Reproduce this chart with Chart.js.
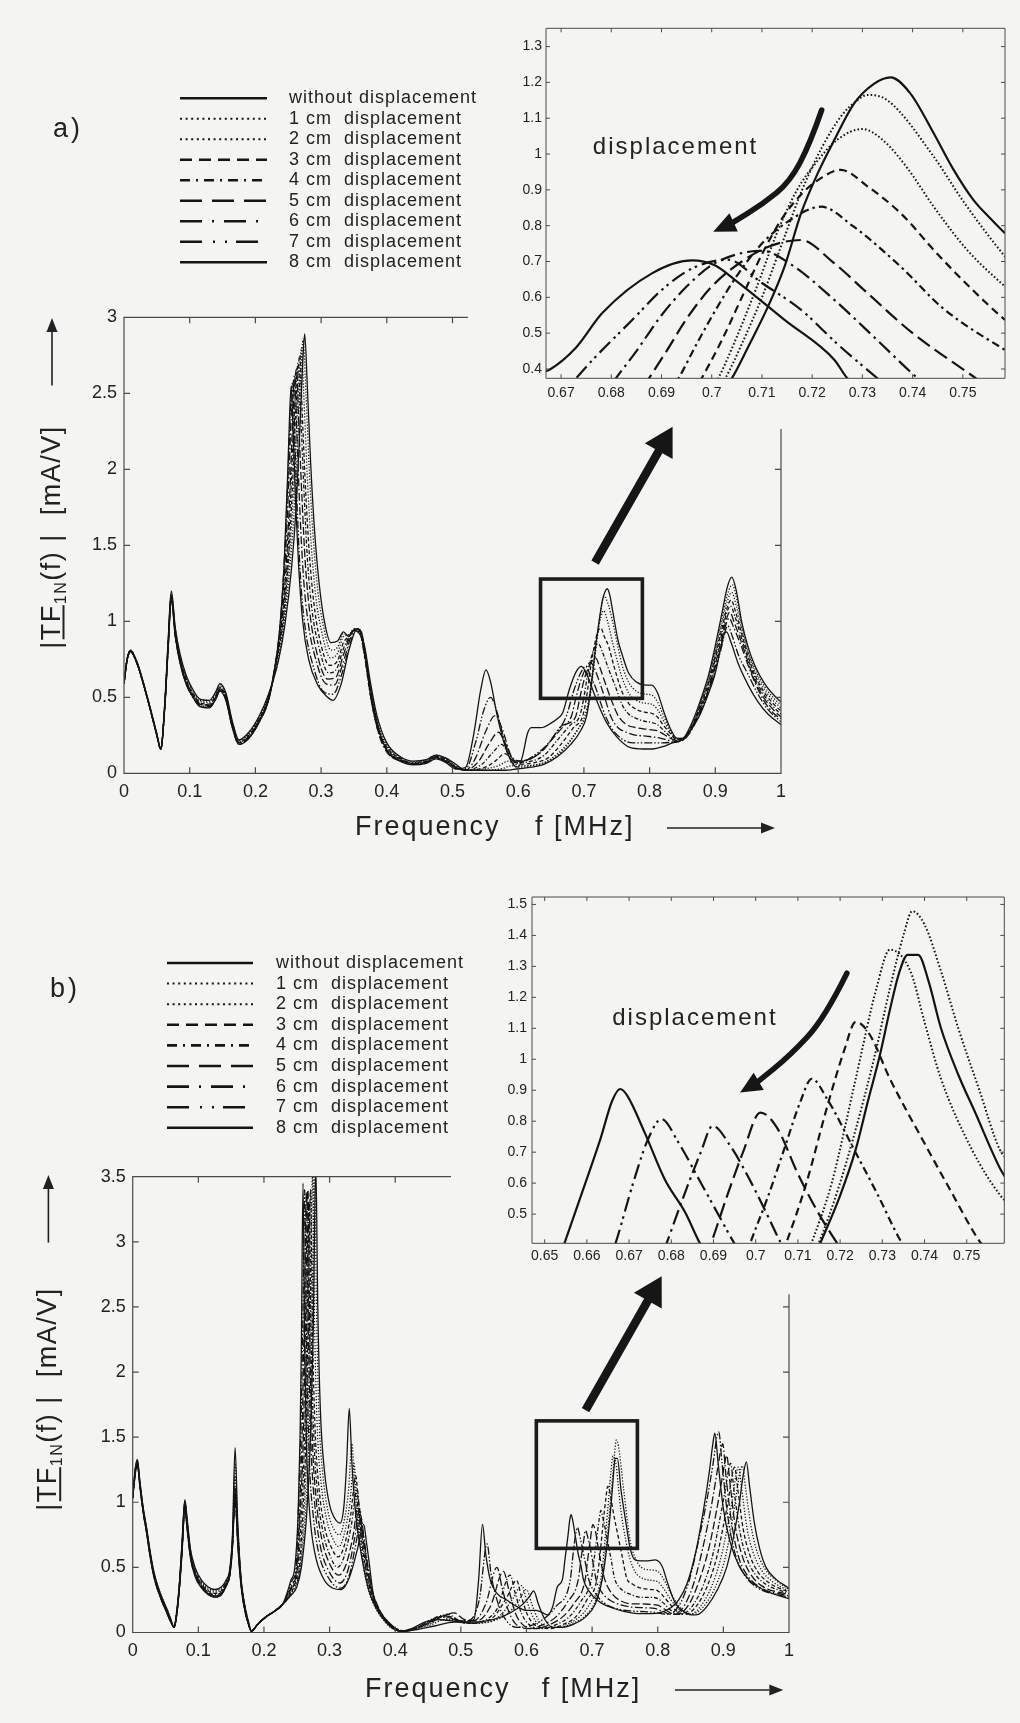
<!DOCTYPE html>
<html><head><meta charset="utf-8">
<script src="https://cdn.jsdelivr.net/npm/chart.js@4.4.1/dist/chart.umd.min.js"></script>
<style>
html,body{margin:0;padding:0;background:#f4f4f2;}
#wrap{position:relative;width:1020px;height:1723px;overflow:hidden;background:#f4f4f2;}
canvas{position:absolute;}
</style></head><body><div id="wrap">
<canvas id="mainA" style="left:0px;top:0px"></canvas>
<canvas id="insetA" style="left:500px;top:0px"></canvas>
<canvas id="mainB" style="left:0px;top:870px"></canvas>
<canvas id="insetB" style="left:490px;top:880px"></canvas>
</div>
<script>
// ---------------- DATA ----------------
const seriesLabels = ['without displacement','1 cm  displacement','2 cm  displacement','3 cm  displacement','4 cm  displacement','5 cm  displacement','6 cm  displacement','7 cm  displacement','8 cm  displacement'];
const lineStyles = ['solid','dot','dot','dash','dashdot','long','longdashdot','dashdotdot','solid'];

const mainXTicks = [0,0.1,0.2,0.3,0.4,0.5,0.6,0.7,0.8,0.9,1];
const mainAYTicks = [0,0.5,1,1.5,2,2.5,3];
const mainBYTicks = [0,0.5,1,1.5,2,2.5,3,3.5];
const insetAXTicks = [0.67,0.68,0.69,0.7,0.71,0.72,0.73,0.74,0.75];
const insetAYTicks = [0.4,0.5,0.6,0.7,0.8,0.9,1,1.1,1.2,1.3];
const insetBXTicks = [0.65,0.66,0.67,0.68,0.69,0.7,0.71,0.72,0.73,0.74,0.75];
const insetBYTicks = [0.5,0.6,0.7,0.8,0.9,1,1.1,1.2,1.3,1.4,1.5];

// panel a, main plot: [f (MHz), |TF| (mA/V)]
const mainA0 = [[0,.60],[.005,.76],[.01,.81],[.02,.73],[.03,.59],[.04,.43],[.05,.26],[.056,.16],[.062,.46],[.067,.86],[.072,1.20],[.078,.96],[.085,.79],[.095,.64],[.105,.55],[.115,.49],[.13,.48],[.14,.54],[.146,.59],[.155,.53],[.165,.34],[.175,.22],[.19,.27],[.205,.37],[.22,.52],[.235,.74],[.245,.98],[.255,1.35],[.262,1.75],[.268,2.3],[.272,2.7],[.275,2.89],[.279,2.55],[.284,2.05],[.29,1.6],[.297,1.25],[.305,1.0],[.315,.86],[.325,.87],[.334,.93],[.342,.90],[.35,.94],[.358,.92],[.366,.84],[.375,.6],[.385,.38],[.4,.2],[.42,.11],[.44,.08],[.46,.09],[.475,.12],[.49,.10],[.505,.06],[.52,.02],[.55,.02],[.58,.02],[.6,.03],[.62,.04],[.64,.06],[.66,.11],[.68,.19],[.695,.28],[.704,.374],[.711,.574],[.718,.835],[.7244,1.039],[.7284,1.142],[.7323,1.196],[.7356,1.214],[.7395,1.17],[.7442,1.058],[.7521,.872],[.7584,.779],[.768,.66],[.78,.6],[.795,.58],[.803,.58],[.812,.53],[.822,.4],[.832,.29],[.842,.23],[.85,.23],[.862,.31],[.875,.45],[.89,.65],[.9,.84],[.91,1.05],[.918,1.22],[.925,1.29],[.932,1.2],[.94,1.0],[.95,.83],[.96,.71],[.975,.59],[.99,.51],[1,.47]];
const mainA1 = [[0,.60],[.005,.76],[.01,.81],[.02,.73],[.03,.59],[.04,.43],[.05,.26],[.056,.16],[.062,.45],[.067,.85],[.072,1.19],[.078,.95],[.085,.78],[.095,.63],[.105,.54],[.115,.48],[.13,.475],[.14,.535],[.146,.585],[.155,.525],[.165,.335],[.175,.215],[.19,.265],[.205,.365],[.22,.515],[.235,.75],[.244,1.0],[.253,1.38],[.26,1.8],[.266,2.35],[.27,2.7],[.2725,2.85],[.277,2.5],[.282,2.0],[.288,1.55],[.295,1.2],[.303,.98],[.315,.81],[.325,.83],[.334,.92],[.342,.91],[.35,.95],[.358,.93],[.366,.82],[.375,.57],[.385,.36],[.4,.19],[.42,.11],[.44,.075],[.46,.09],[.475,.12],[.49,.10],[.505,.05],[.52,.02],[.55,.02],[.575,.03],[.59,.05],[.6,.04],[.62,.05],[.64,.07],[.66,.13],[.68,.22],[.694,.31],[.703,.374],[.71,.52],[.716,.74],[.722,.95],[.727,1.1],[.731,1.165],[.737,1.11],[.744,.993],[.752,.83],[.758,.714],[.768,.6],[.78,.54],[.795,.52],[.803,.515],[.812,.47],[.822,.37],[.832,.28],[.842,.23],[.85,.23],[.862,.3],[.875,.44],[.89,.63],[.9,.81],[.91,1.01],[.918,1.17],[.926,1.24],[.933,1.14],[.94,.98],[.95,.81],[.96,.69],[.975,.57],[.99,.49],[1,.45]];
const mainA2 = [[0,.60],[.005,.76],[.01,.805],[.02,.725],[.03,.585],[.04,.425],[.05,.255],[.056,.16],[.062,.45],[.067,.84],[.072,1.18],[.078,.94],[.085,.77],[.095,.62],[.105,.53],[.115,.475],[.13,.465],[.14,.525],[.146,.575],[.155,.515],[.165,.325],[.175,.21],[.19,.26],[.205,.36],[.22,.51],[.233,.74],[.243,1.0],[.251,1.38],[.258,1.85],[.264,2.4],[.268,2.7],[.27,2.8],[.274,2.45],[.279,1.95],[.285,1.5],[.292,1.16],[.3,.95],[.314,.76],[.325,.79],[.334,.9],[.342,.91],[.35,.94],[.358,.93],[.366,.8],[.375,.55],[.385,.34],[.4,.18],[.42,.1],[.44,.07],[.46,.085],[.475,.115],[.49,.095],[.505,.045],[.52,.02],[.55,.03],[.57,.05],[.585,.08],[.595,.06],[.61,.05],[.63,.06],[.65,.09],[.67,.16],[.688,.27],[.701,.374],[.708,.5],[.714,.7],[.72,.9],[.726,1.03],[.73,1.07],[.736,1.0],[.744,.853],[.752,.72],[.758,.63],[.768,.53],[.78,.48],[.795,.46],[.803,.455],[.812,.42],[.822,.34],[.832,.27],[.842,.225],[.85,.225],[.862,.29],[.875,.43],[.89,.61],[.9,.79],[.91,.98],[.918,1.13],[.925,1.19],[.932,1.1],[.94,.95],[.95,.79],[.96,.67],[.975,.55],[.99,.47],[1,.43]];
const mainA3 = [[0,.595],[.005,.755],[.01,.80],[.02,.72],[.03,.58],[.04,.42],[.05,.25],[.056,.16],[.062,.44],[.067,.83],[.072,1.17],[.078,.93],[.085,.76],[.095,.61],[.105,.52],[.115,.465],[.13,.455],[.14,.515],[.146,.565],[.155,.505],[.165,.32],[.175,.205],[.19,.25],[.205,.35],[.22,.5],[.232,.73],[.242,1.0],[.25,1.4],[.256,1.85],[.261,2.35],[.265,2.65],[.2675,2.75],[.271,2.4],[.276,1.9],[.282,1.45],[.289,1.12],[.297,.9],[.313,.71],[.325,.74],[.334,.86],[.342,.9],[.35,.94],[.358,.94],[.366,.79],[.375,.53],[.385,.32],[.4,.17],[.42,.1],[.44,.065],[.46,.08],[.475,.11],[.49,.09],[.505,.04],[.52,.02],[.55,.04],[.565,.08],[.58,.13],[.59,.09],[.605,.06],[.625,.07],[.645,.1],[.665,.19],[.684,.3],[.698,.374],[.704,.5],[.71,.69],[.716,.84],[.721,.93],[.7257,.956],[.731,.9],[.7376,.835],[.746,.7],[.758,.537],[.768,.46],[.78,.42],[.795,.4],[.803,.395],[.812,.37],[.822,.31],[.832,.26],[.842,.22],[.85,.225],[.862,.29],[.875,.42],[.89,.6],[.9,.77],[.91,.95],[.918,1.09],[.924,1.14],[.931,1.06],[.94,.92],[.95,.77],[.96,.65],[.975,.53],[.99,.45],[1,.41]];
const mainA4 = [[0,.595],[.005,.755],[.01,.80],[.02,.72],[.03,.58],[.04,.42],[.05,.25],[.056,.16],[.062,.44],[.067,.83],[.072,1.16],[.078,.92],[.085,.75],[.095,.6],[.105,.515],[.115,.46],[.13,.45],[.14,.51],[.146,.56],[.155,.5],[.165,.315],[.175,.2],[.19,.245],[.205,.345],[.22,.495],[.231,.72],[.241,1.0],[.249,1.42],[.254,1.85],[.259,2.35],[.263,2.62],[.265,2.7],[.269,2.35],[.274,1.85],[.279,1.42],[.286,1.08],[.295,.86],[.312,.66],[.324,.69],[.334,.82],[.343,.9],[.351,.95],[.358,.94],[.366,.77],[.375,.51],[.385,.31],[.4,.16],[.42,.095],[.44,.065],[.46,.08],[.475,.11],[.49,.085],[.505,.04],[.52,.02],[.545,.06],[.56,.13],[.575,.19],[.585,.13],[.6,.07],[.62,.08],[.64,.12],[.66,.22],[.68,.32],[.6934,.374],[.7,.5],[.706,.66],[.713,.79],[.718,.84],[.7218,.853],[.728,.8],[.7376,.686],[.748,.57],[.758,.453],[.768,.39],[.78,.36],[.795,.34],[.803,.335],[.812,.32],[.822,.28],[.832,.24],[.842,.215],[.85,.22],[.862,.28],[.875,.41],[.89,.58],[.9,.75],[.91,.92],[.917,1.05],[.923,1.1],[.93,1.03],[.94,.89],[.95,.75],[.96,.63],[.975,.51],[.99,.43],[1,.39]];
const mainA5 = [[0,.59],[.005,.75],[.01,.80],[.02,.72],[.03,.58],[.04,.42],[.05,.25],[.056,.16],[.062,.44],[.067,.82],[.072,1.16],[.078,.92],[.085,.745],[.095,.595],[.105,.51],[.115,.455],[.13,.445],[.14,.505],[.146,.555],[.155,.495],[.165,.31],[.175,.2],[.19,.24],[.205,.34],[.22,.49],[.23,.7],[.24,1.0],[.248,1.45],[.253,1.9],[.257,2.35],[.2605,2.6],[.2625,2.66],[.266,2.3],[.271,1.8],[.276,1.38],[.283,1.05],[.292,.82],[.31,.62],[.322,.63],[.334,.78],[.344,.9],[.352,.95],[.359,.94],[.367,.76],[.376,.49],[.386,.29],[.4,.15],[.42,.09],[.44,.06],[.46,.075],[.475,.105],[.49,.08],[.505,.035],[.52,.02],[.54,.08],[.555,.19],[.57,.27],[.58,.2],[.595,.08],[.615,.09],[.635,.14],[.655,.24],[.672,.32],[.6875,.374],[.694,.5],[.702,.64],[.71,.72],[.7178,.76],[.724,.7],[.731,.612],[.742,.48],[.7521,.379],[.765,.32],[.78,.3],[.795,.29],[.803,.285],[.812,.28],[.822,.255],[.832,.23],[.842,.215],[.85,.22],[.862,.28],[.875,.4],[.89,.56],[.9,.72],[.91,.89],[.916,1.0],[.922,1.06],[.929,.99],[.94,.86],[.95,.73],[.96,.61],[.975,.49],[.99,.41],[1,.37]];
const mainA6 = [[0,.59],[.005,.75],[.01,.80],[.02,.72],[.03,.58],[.04,.42],[.05,.25],[.056,.16],[.062,.43],[.067,.82],[.072,1.15],[.078,.91],[.085,.74],[.095,.59],[.105,.505],[.115,.45],[.13,.44],[.14,.5],[.146,.55],[.155,.49],[.165,.305],[.175,.195],[.19,.235],[.205,.335],[.22,.485],[.229,.69],[.239,1.0],[.246,1.45],[.251,1.95],[.255,2.4],[.258,2.58],[.26,2.62],[.263,2.25],[.268,1.7],[.273,1.3],[.28,1.0],[.29,.78],[.307,.59],[.32,.58],[.333,.72],[.344,.88],[.353,.95],[.36,.94],[.368,.74],[.377,.48],[.387,.27],[.4,.14],[.42,.085],[.44,.06],[.46,.07],[.475,.1],[.49,.08],[.505,.035],[.52,.02],[.535,.1],[.55,.27],[.565,.38],[.575,.3],[.59,.11],[.605,.08],[.625,.11],[.645,.19],[.663,.3],[.6809,.374],[.688,.5],[.696,.62],[.704,.7],[.71,.73],[.716,.69],[.7244,.593],[.733,.48],[.741,.374],[.752,.3],[.765,.27],[.78,.25],[.795,.245],[.803,.24],[.812,.235],[.822,.225],[.832,.215],[.842,.21],[.85,.215],[.862,.27],[.875,.39],[.89,.55],[.9,.7],[.91,.86],[.915,.96],[.921,1.02],[.928,.96],[.94,.83],[.95,.71],[.96,.6],[.975,.47],[.99,.39],[1,.36]];
const mainA7 = [[0,.59],[.005,.75],[.01,.80],[.02,.72],[.03,.58],[.04,.42],[.05,.25],[.056,.16],[.062,.43],[.067,.81],[.072,1.15],[.078,.905],[.085,.735],[.095,.585],[.105,.5],[.115,.445],[.13,.435],[.14,.495],[.146,.545],[.155,.485],[.165,.3],[.175,.19],[.19,.23],[.205,.33],[.22,.48],[.229,.68],[.238,1.0],[.245,1.48],[.25,2.0],[.2535,2.4],[.2557,2.55],[.2575,2.58],[.26,2.2],[.265,1.6],[.27,1.2],[.277,.92],[.287,.72],[.303,.54],[.318,.52],[.332,.66],[.344,.85],[.354,.95],[.361,.93],[.369,.72],[.378,.46],[.39,.25],[.405,.13],[.42,.08],[.44,.06],[.46,.07],[.475,.1],[.49,.075],[.505,.03],[.52,.03],[.535,.2],[.548,.42],[.558,.5],[.568,.4],[.58,.2],[.595,.07],[.61,.08],[.625,.12],[.64,.17],[.655,.25],[.673,.374],[.6848,.546],[.695,.66],[.7032,.705],[.71,.64],[.7178,.565],[.725,.47],[.733,.374],[.745,.28],[.76,.22],[.775,.2],[.79,.2],[.805,.2],[.82,.2],[.835,.205],[.845,.21],[.86,.27],[.875,.38],[.89,.54],[.9,.68],[.91,.84],[.914,.92],[.919,.97],[.926,.9],[.935,.78],[.95,.65],[.965,.52],[.98,.42],[1,.34]];
const mainA8 = [[0,.59],[.005,.75],[.01,.80],[.02,.72],[.03,.58],[.04,.42],[.05,.25],[.056,.16],[.062,.43],[.067,.80],[.072,1.14],[.078,.90],[.085,.73],[.095,.58],[.105,.50],[.115,.44],[.13,.43],[.14,.49],[.146,.54],[.155,.48],[.165,.30],[.175,.19],[.19,.23],[.205,.33],[.22,.48],[.229,.67],[.237,.95],[.244,1.4],[.249,1.95],[.252,2.35],[.2545,2.55],[.257,2.3],[.261,1.8],[.266,1.35],[.272,1.0],[.281,.75],[.295,.58],[.31,.5],[.318,.48],[.33,.58],[.343,.82],[.355,.95],[.362,.92],[.37,.7],[.38,.44],[.392,.23],[.405,.12],[.42,.08],[.44,.055],[.46,.065],[.475,.095],[.49,.07],[.505,.03],[.52,.04],[.532,.25],[.543,.55],[.551,.68],[.558,.6],[.568,.38],[.58,.18],[.592,.06],[.6,.04],[.607,.12],[.614,.26],[.62,.3],[.635,.3],[.65,.33],[.66,.36],[.6677,.398],[.6782,.556],[.6881,.667],[.6961,.703],[.7046,.649],[.7145,.537],[.7244,.426],[.735,.33],[.75,.24],[.77,.17],[.79,.16],[.805,.16],[.82,.175],[.835,.2],[.845,.21],[.86,.27],[.875,.37],[.89,.53],[.9,.66],[.908,.82],[.913,.91],[.917,.93],[.924,.86],[.935,.72],[.95,.58],[.965,.47],[.98,.39],[1,.32]];

// panel b, main plot
const mainB0 = [[0,1.05],[.004,1.26],[.007,1.33],[.011,1.16],[.016,.96],[.021,.81],[.027,.61],[.033,.45],[.04,.33],[.047,.24],[.053,.17],[.058,.1],[.063,.04],[.067,.16],[.071,.37],[.075,.68],[.0795,1.02],[.083,.87],[.088,.64],[.095,.5],[.105,.4],[.115,.35],[.125,.33],[.135,.35],[.142,.4],[.148,.49],[.152,.75],[.156,1.42],[.16,.85],[.165,.42],[.17,.23],[.176,.09],[.181,.01],[.19,.06],[.203,.12],[.215,.16],[.229,.22],[.24,.28],[.25,.35],[.257,.5],[.265,.9],[.271,1.5],[.275,2.3],[.279,3.6],[.282,2.5],[.286,1.7],[.292,1.25],[.3,.98],[.31,.86],[.316,.84],[.322,.98],[.326,1.3],[.33,1.72],[.334,1.3],[.34,.9],[.35,.55],[.36,.32],[.37,.2],[.38,.12],[.39,.06],[.4,.02],[.41,.01],[.43,.02],[.46,.05],[.49,.08],[.52,.08],[.55,.1],[.575,.15],[.595,.22],[.605,.28],[.611,.32],[.618,.22],[.628,.1],[.64,.04],[.655,.04],[.67,.06],[.69,.12],[.705,.22],[.7153,.406],[.7237,.709],[.7294,1.012],[.7318,1.16],[.735,1.337],[.7385,1.337],[.7439,1.1],[.752,.828],[.7578,.65],[.765,.56],[.775,.55],[.785,.55],[.7963,.557],[.807,.505],[.815,.38],[.827,.224],[.84,.16],[.852,.135],[.862,.14],[.875,.2],[.89,.32],[.905,.5],[.915,.72],[.924,.98],[.93,1.2],[.935,1.31],[.94,1.12],[.947,.85],[.955,.65],[.965,.5],[.98,.41],[1,.34]];
const mainB1 = [[0,1.05],[.004,1.26],[.007,1.32],[.011,1.15],[.016,.95],[.021,.8],[.027,.6],[.033,.45],[.04,.33],[.047,.24],[.053,.17],[.058,.1],[.063,.04],[.067,.16],[.071,.36],[.075,.67],[.0795,1.01],[.083,.86],[.088,.63],[.095,.49],[.105,.39],[.115,.34],[.125,.32],[.135,.34],[.142,.39],[.148,.48],[.152,.73],[.156,1.3],[.16,.82],[.165,.41],[.17,.23],[.176,.09],[.181,.01],[.19,.06],[.203,.12],[.215,.16],[.229,.22],[.24,.28],[.249,.35],[.256,.5],[.263,.9],[.269,1.5],[.273,2.3],[.277,3.6],[.28,2.5],[.284,1.65],[.29,1.2],[.298,.92],[.308,.78],[.315,.75],[.322,.85],[.329,1.1],[.334,1.45],[.338,1.15],[.344,.8],[.352,.5],[.36,.31],[.37,.19],[.38,.11],[.39,.05],[.4,.02],[.41,.01],[.43,.03],[.455,.06],[.475,.1],[.49,.09],[.52,.07],[.55,.09],[.57,.14],[.588,.24],[.6,.33],[.608,.22],[.618,.1],[.632,.04],[.65,.04],[.67,.07],[.69,.13],[.705,.24],[.7149,.406],[.7237,.774],[.7318,1.229],[.7371,1.478],[.74,1.435],[.748,1.1],[.7578,.709],[.765,.58],[.775,.5],[.79,.48],[.8,.47],[.81,.4],[.82,.3],[.83,.22],[.84,.16],[.848,.14],[.858,.15],[.87,.2],[.885,.32],[.9,.52],[.91,.75],[.918,1.0],[.925,1.22],[.929,1.28],[.934,1.1],[.942,.82],[.95,.64],[.962,.5],[.98,.4],[1,.33]];
const mainB2 = [[0,1.04],[.004,1.25],[.007,1.32],[.011,1.15],[.016,.95],[.021,.8],[.027,.6],[.033,.44],[.04,.32],[.047,.23],[.053,.16],[.058,.1],[.063,.04],[.067,.15],[.071,.36],[.075,.66],[.0795,1.0],[.083,.85],[.088,.62],[.095,.48],[.105,.38],[.115,.33],[.125,.31],[.135,.33],[.142,.38],[.148,.47],[.152,.72],[.156,1.2],[.16,.8],[.165,.41],[.17,.22],[.176,.08],[.181,.01],[.19,.06],[.203,.12],[.215,.16],[.229,.22],[.24,.29],[.248,.36],[.255,.5],[.261,.9],[.266,1.5],[.27,2.3],[.274,3.5],[.277,2.4],[.281,1.6],[.287,1.15],[.295,.88],[.305,.72],[.314,.66],[.322,.75],[.331,1.0],[.337,1.3],[.341,1.05],[.347,.72],[.355,.45],[.363,.28],[.372,.17],[.382,.1],[.392,.05],[.402,.02],[.412,.01],[.43,.03],[.455,.07],[.47,.12],[.485,.1],[.51,.07],[.54,.08],[.56,.13],[.578,.25],[.593,.36],[.6,.25],[.61,.12],[.625,.04],[.645,.04],[.665,.07],[.685,.14],[.7,.25],[.7132,.406],[.7237,.937],[.7286,1.229],[.7318,1.354],[.7367,1.283],[.74,1.12],[.7439,.937],[.7512,.709],[.7578,.563],[.765,.47],[.775,.42],[.79,.4],[.8,.39],[.81,.33],[.82,.25],[.83,.19],[.84,.15],[.846,.14],[.855,.15],[.865,.2],[.88,.33],[.895,.55],[.905,.78],[.913,1.0],[.919,1.2],[.923,1.27],[.928,1.1],[.936,.8],[.945,.62],[.958,.48],[.975,.39],[1,.32]];
const mainB3 = [[0,1.04],[.004,1.25],[.007,1.31],[.011,1.14],[.016,.94],[.021,.79],[.027,.59],[.033,.44],[.04,.32],[.047,.23],[.053,.16],[.058,.1],[.063,.04],[.067,.15],[.071,.35],[.075,.65],[.0795,.99],[.083,.84],[.088,.61],[.095,.47],[.105,.37],[.115,.32],[.125,.3],[.135,.32],[.142,.38],[.148,.46],[.152,.7],[.156,1.12],[.16,.78],[.165,.4],[.17,.22],[.176,.08],[.181,.01],[.19,.06],[.203,.12],[.215,.16],[.229,.22],[.24,.29],[.247,.37],[.254,.5],[.259,.9],[.264,1.5],[.267,2.3],[.271,3.4],[.274,2.3],[.278,1.55],[.284,1.1],[.292,.82],[.303,.65],[.313,.58],[.322,.66],[.332,.9],[.34,1.2],[.344,.98],[.35,.66],[.358,.41],[.366,.26],[.375,.16],[.385,.09],[.395,.04],[.405,.02],[.415,.01],[.435,.04],[.46,.09],[.475,.13],[.49,.1],[.51,.07],[.53,.08],[.55,.12],[.57,.27],[.585,.4],[.592,.28],[.602,.13],[.615,.05],[.635,.03],[.655,.06],[.675,.12],[.692,.25],[.7072,.406],[.712,.6],[.717,.85],[.721,1.03],[.7237,1.121],[.727,1.08],[.7318,.937],[.7399,.731],[.746,.58],[.7528,.417],[.762,.37],[.775,.34],[.79,.33],[.8,.32],[.81,.27],[.82,.21],[.83,.16],[.838,.14],[.848,.15],[.86,.21],[.875,.35],[.89,.58],[.9,.82],[.908,1.03],[.913,1.2],[.917,1.27],[.922,1.1],[.93,.8],[.94,.6],[.952,.47],[.97,.38],[1,.31]];
const mainB4 = [[0,1.04],[.004,1.24],[.007,1.31],[.011,1.14],[.016,.94],[.021,.79],[.027,.59],[.033,.43],[.04,.31],[.047,.22],[.053,.15],[.058,.09],[.063,.04],[.067,.15],[.071,.35],[.075,.64],[.0795,.98],[.083,.83],[.088,.6],[.095,.46],[.105,.36],[.115,.31],[.125,.29],[.135,.31],[.142,.37],[.148,.46],[.152,.69],[.156,1.06],[.16,.76],[.165,.4],[.17,.21],[.176,.08],[.181,.01],[.19,.06],[.203,.12],[.215,.16],[.229,.22],[.239,.3],[.246,.37],[.252,.5],[.257,.9],[.262,1.5],[.265,2.2],[.269,3.3],[.272,2.2],[.276,1.5],[.282,1.05],[.29,.77],[.3,.6],[.312,.5],[.322,.58],[.333,.82],[.342,1.1],[.346,.9],[.352,.62],[.36,.38],[.368,.24],[.377,.15],[.387,.08],[.397,.04],[.407,.02],[.418,.01],[.44,.05],[.46,.1],[.48,.14],[.495,.1],[.515,.07],[.535,.09],[.555,.18],[.575,.44],[.583,.3],[.593,.14],[.607,.05],[.625,.03],[.645,.06],[.665,.12],[.683,.24],[.6987,.406],[.703,.56],[.707,.72],[.7105,.86],[.7133,.937],[.717,.87],[.7237,.698],[.729,.56],[.7342,.417],[.745,.33],[.76,.29],[.775,.27],[.79,.27],[.8,.26],[.81,.22],[.82,.17],[.832,.14],[.842,.15],[.855,.22],[.87,.37],[.885,.62],[.895,.88],[.903,1.1],[.908,1.25],[.911,1.3],[.916,1.1],[.925,.78],[.935,.58],[.948,.45],[.965,.37],[1,.3]];
const mainB5 = [[0,1.04],[.004,1.24],[.007,1.3],[.011,1.13],[.016,.93],[.021,.78],[.027,.58],[.033,.43],[.04,.31],[.047,.22],[.053,.15],[.058,.09],[.063,.04],[.067,.14],[.071,.34],[.075,.63],[.0795,.97],[.083,.82],[.088,.6],[.095,.46],[.105,.36],[.115,.31],[.125,.28],[.135,.3],[.142,.37],[.148,.45],[.152,.68],[.156,1.02],[.16,.74],[.165,.39],[.17,.2],[.176,.07],[.181,.01],[.19,.06],[.203,.12],[.215,.16],[.229,.22],[.238,.3],[.245,.38],[.251,.5],[.255,.9],[.26,1.5],[.263,2.3],[.267,3.4],[.27,2.2],[.274,1.45],[.28,1.0],[.288,.72],[.299,.54],[.314,.44],[.325,.52],[.336,.75],[.344,1.0],[.348,.84],[.355,.57],[.362,.36],[.37,.23],[.379,.14],[.389,.07],[.399,.03],[.41,.01],[.425,.02],[.445,.06],[.465,.11],[.49,.15],[.505,.1],[.525,.09],[.545,.2],[.565,.47],[.573,.33],[.583,.15],[.597,.05],[.615,.03],[.635,.06],[.655,.12],[.672,.22],[.6894,.406],[.693,.55],[.697,.7],[.7011,.828],[.705,.78],[.71,.63],[.715,.5],[.7193,.406],[.73,.3],[.745,.24],[.76,.22],[.775,.22],[.79,.215],[.8,.21],[.81,.18],[.82,.15],[.826,.14],[.836,.15],[.848,.22],[.862,.38],[.878,.65],[.889,.92],[.897,1.15],[.902,1.3],[.905,1.36],[.91,1.15],[.918,.82],[.928,.6],[.94,.46],[.958,.36],[1,.29]];
const mainB6 = [[0,1.03],[.004,1.23],[.007,1.3],[.011,1.13],[.016,.93],[.021,.78],[.027,.58],[.033,.42],[.04,.3],[.047,.21],[.053,.14],[.058,.09],[.063,.04],[.067,.14],[.071,.34],[.075,.62],[.0795,.96],[.083,.81],[.088,.59],[.095,.45],[.105,.35],[.115,.3],[.125,.28],[.135,.3],[.142,.36],[.148,.45],[.152,.67],[.156,1.0],[.16,.72],[.165,.38],[.17,.2],[.176,.07],[.181,.01],[.19,.06],[.203,.12],[.215,.16],[.229,.22],[.237,.3],[.244,.38],[.25,.5],[.254,.9],[.258,1.5],[.261,2.3],[.265,3.38],[.268,2.2],[.272,1.4],[.278,.95],[.286,.66],[.298,.48],[.316,.38],[.328,.48],[.338,.72],[.346,.95],[.35,.8],[.357,.54],[.364,.34],[.372,.22],[.381,.13],[.391,.07],[.401,.03],[.412,.01],[.43,.03],[.45,.08],[.47,.13],[.485,.12],[.5,.09],[.52,.09],[.538,.22],[.555,.5],[.563,.34],[.573,.16],[.587,.05],[.605,.03],[.625,.06],[.645,.12],[.662,.23],[.6789,.406],[.683,.56],[.687,.7],[.6898,.785],[.694,.72],[.699,.6],[.703,.49],[.706,.406],[.716,.3],[.73,.24],[.745,.21],[.76,.195],[.78,.19],[.795,.185],[.808,.16],[.82,.14],[.83,.15],[.842,.22],[.855,.38],[.87,.68],[.882,.98],[.891,1.25],[.896,1.4],[.899,1.45],[.904,1.2],[.912,.86],[.922,.6],[.935,.45],[.955,.35],[1,.28]];
const mainB7 = [[0,1.03],[.004,1.23],[.007,1.29],[.011,1.12],[.016,.92],[.021,.77],[.027,.57],[.033,.42],[.04,.3],[.047,.21],[.053,.14],[.058,.08],[.063,.04],[.067,.13],[.071,.33],[.075,.61],[.0795,.95],[.083,.8],[.088,.58],[.095,.44],[.105,.35],[.115,.3],[.125,.27],[.135,.29],[.142,.36],[.148,.44],[.152,.66],[.156,1.05],[.16,.7],[.165,.37],[.17,.19],[.176,.07],[.181,.01],[.19,.06],[.203,.12],[.215,.16],[.229,.22],[.236,.3],[.243,.4],[.249,.5],[.252,.9],[.256,1.5],[.259,2.3],[.262,3.4],[.265,2.2],[.269,1.35],[.275,.9],[.283,.62],[.296,.44],[.317,.34],[.33,.44],[.34,.68],[.348,.88],[.352,.74],[.358,.52],[.365,.32],[.373,.2],[.383,.12],[.393,.06],[.403,.02],[.414,.01],[.435,.04],[.455,.1],[.475,.12],[.49,.1],[.51,.09],[.528,.25],[.54,.68],[.546,.45],[.555,.25],[.568,.1],[.585,.04],[.605,.05],[.625,.1],[.645,.2],[.6668,.406],[.6712,.611],[.6745,.742],[.6777,.807],[.6817,.731],[.6866,.611],[.6914,.492],[.6947,.411],[.705,.3],[.72,.22],[.74,.18],[.76,.165],[.78,.16],[.795,.155],[.812,.14],[.822,.15],[.834,.22],[.848,.4],[.862,.7],[.875,1.02],[.885,1.32],[.89,1.5],[.893,1.54],[.898,1.3],[.906,.92],[.916,.64],[.93,.46],[.95,.35],[1,.27]];
const mainB8 = [[0,1.03],[.004,1.22],[.007,1.29],[.011,1.12],[.016,.92],[.021,.77],[.027,.57],[.033,.41],[.04,.3],[.047,.21],[.053,.14],[.058,.08],[.063,.04],[.067,.13],[.071,.33],[.075,.6],[.0795,.95],[.083,.79],[.088,.57],[.095,.43],[.105,.34],[.115,.29],[.125,.27],[.135,.29],[.142,.35],[.148,.44],[.152,.65],[.156,1.1],[.16,.68],[.165,.36],[.17,.19],[.176,.07],[.181,.01],[.19,.06],[.203,.12],[.215,.16],[.229,.22],[.235,.3],[.241,.4],[.247,.5],[.252,.9],[.255,1.5],[.257,2.2],[.2595,3.45],[.262,2.2],[.265,1.4],[.27,.9],[.278,.6],[.29,.42],[.305,.34],[.318,.33],[.33,.42],[.342,.63],[.352,.83],[.356,.7],[.36,.55],[.366,.31],[.376,.15],[.386,.1],[.396,.05],[.406,.01],[.425,.03],[.445,.08],[.465,.1],[.485,.09],[.505,.08],[.52,.1],[.527,.4],[.533,.83],[.538,.6],[.545,.4],[.555,.3],[.57,.25],[.585,.2],[.6,.17],[.615,.17],[.625,.15],[.632,.135],[.64,.2],[.647,.35],[.6547,.406],[.6591,.579],[.6632,.742],[.666,.866],[.6679,.904],[.6696,.882],[.6737,.763],[.6785,.611],[.6834,.503],[.6866,.411],[.695,.32],[.71,.24],[.73,.19],[.75,.16],[.77,.145],[.79,.145],[.805,.155],[.82,.19],[.832,.25],[.845,.38],[.858,.62],[.87,.95],[.879,1.25],[.884,1.45],[.887,1.53],[.892,1.3],[.9,.95],[.91,.7],[.925,.5],[.94,.4],[.96,.33],[.98,.29],[1,.26]];

// panel a, inset (zoom of 0.667-0.758 MHz)
const insetA0 = [[.7,.3],[.704,.374],[.7073,.463],[.7112,.574],[.7145,.686],[.7178,.835],[.7211,.946],[.7244,1.039],[.7284,1.142],[.7323,1.196],[.7356,1.214],[.7395,1.17],[.7442,1.058],[.748,.96],[.7521,.872],[.7555,.82],[.7584,.779],[.76,.76]];
const insetA1 = [[.699,.3],[.7027,.374],[.706,.47],[.71,.6],[.714,.75],[.718,.9],[.722,1.02],[.726,1.11],[.729,1.15],[.731,1.165],[.735,1.15],[.7442,.993],[.75,.87],[.7584,.714],[.76,.69]];
const insetA2 = [[.698,.3],[.7013,.374],[.705,.49],[.709,.63],[.713,.78],[.717,.9],[.721,.98],[.725,1.04],[.73,1.07],[.734,1.04],[.739,.96],[.7442,.853],[.751,.73],[.7584,.63],[.76,.61]];
const insetA3 = [[.695,.3],[.698,.374],[.702,.48],[.706,.6],[.71,.72],[.714,.82],[.718,.89],[.722,.935],[.7257,.956],[.731,.91],[.7376,.835],[.745,.72],[.752,.62],[.7584,.537],[.76,.52]];
const insetA4 = [[.69,.3],[.6934,.374],[.697,.47],[.701,.57],[.705,.66],[.71,.75],[.715,.81],[.7218,.853],[.728,.8],[.7376,.686],[.746,.57],[.7584,.453],[.76,.44]];
const insetA5 = [[.684,.3],[.6875,.374],[.691,.45],[.695,.54],[.7,.63],[.706,.7],[.712,.745],[.7178,.76],[.724,.7],[.731,.612],[.74,.5],[.7521,.379],[.755,.35]];
const insetA6 = [[.677,.3],[.6809,.374],[.685,.45],[.69,.55],[.695,.63],[.7,.69],[.705,.72],[.71,.73],[.716,.69],[.7244,.593],[.733,.48],[.741,.374],[.744,.34]];
const insetA7 = [[.669,.3],[.673,.374],[.6848,.546],[.69,.62],[.696,.68],[.7032,.705],[.71,.64],[.7178,.565],[.725,.47],[.733,.374],[.736,.34]];
const insetA8 = [[.666,.39],[.6677,.398],[.673,.46],[.6782,.556],[.6881,.667],[.6961,.703],[.7005,.69],[.7046,.649],[.7145,.537],[.7244,.426],[.727,.374],[.73,.34]];

// panel b, inset (zoom of 0.647-0.759 MHz)
const insetB0 = [[.712,.3],[.7153,.406],[.72,.56],[.7237,.709],[.7265,.86],[.7294,1.012],[.7318,1.16],[.734,1.28],[.736,1.337],[.7385,1.337],[.741,1.25],[.7439,1.1],[.748,.95],[.752,.828],[.7578,.65],[.76,.6]];
const insetB1 = [[.711,.3],[.7149,.406],[.7195,.58],[.7237,.774],[.728,1.0],[.7318,1.229],[.735,1.4],[.7371,1.478],[.74,1.435],[.744,1.28],[.748,1.1],[.753,.9],[.7578,.709],[.76,.67]];
const insetB2 = [[.71,.3],[.7132,.406],[.718,.6],[.7237,.937],[.7286,1.229],[.7318,1.354],[.7367,1.283],[.74,1.12],[.7439,.937],[.7512,.709],[.7578,.563],[.76,.53]];
const insetB3 = [[.704,.3],[.7072,.406],[.712,.6],[.717,.85],[.721,1.03],[.7237,1.121],[.727,1.08],[.7318,.937],[.7399,.731],[.746,.58],[.7528,.417],[.755,.38]];
const insetB4 = [[.696,.3],[.6987,.406],[.703,.56],[.707,.72],[.7105,.86],[.7133,.937],[.717,.87],[.7237,.698],[.729,.56],[.7342,.417],[.737,.36]];
const insetB5 = [[.686,.3],[.6894,.406],[.693,.55],[.697,.7],[.7011,.828],[.705,.78],[.71,.63],[.715,.5],[.7193,.406],[.722,.35]];
const insetB6 = [[.676,.3],[.6789,.406],[.683,.56],[.687,.7],[.6898,.785],[.694,.72],[.699,.6],[.703,.49],[.706,.406],[.709,.34]];
const insetB7 = [[.664,.3],[.6668,.406],[.6712,.611],[.6745,.742],[.6777,.807],[.6817,.731],[.6866,.611],[.6914,.492],[.6947,.411],[.697,.36]];
const insetB8 = [[.652,.3],[.6547,.406],[.6591,.579],[.6632,.742],[.666,.866],[.6679,.904],[.6696,.882],[.6737,.763],[.6785,.611],[.6834,.503],[.6866,.411],[.689,.36]];

// ---------------- STYLE / LAYOUT ----------------
const FONT = "'Liberation Sans', Arial, Helvetica, sans-serif";
const INK = '#141414';
const TEXT = '#222222';
const FRAME = '#4a4a4a';
const BG = '#f4f4f2';
Chart.defaults.font.family = FONT;

const mainDash = {solid: [], dot: [1.2, 1.8], dash: [4, 2.5], dashdot: [4, 2, 1.2, 2], long: [8, 3], longdashdot: [8, 2.5, 1.5, 2.5], dashdotdot: [8, 2, 1.5, 2, 1.5, 2]};
const insetDash = {solid: [], dot: [1.6, 2.2], dash: [8, 5], dashdot: [8, 4, 2.5, 4], long: [15, 6], longdashdot: [15, 5, 2.5, 5], dashdotdot: [15, 5, 2.5, 4, 2.5, 5]};
const legendDash = {solid: [], dot: [2, 3.6], dash: [12, 7], dashdot: [10, 6, 2, 6], long: [22, 10], longdashdot: [22, 10, 2, 10], dashdotdot: [22, 11, 2, 10, 2, 9]};

function makeDatasets(list, dashMap, width) {
  return list.map((pts, i) => ({
    label: seriesLabels[i],
    data: pts.map(p => ({x: p[0], y: p[1]})),
    borderColor: INK,
    borderWidth: (lineStyles[i] === 'dot' && width > 1.5) ? width * 0.9 : width,
    borderDash: dashMap[lineStyles[i]],
    pointRadius: 0,
    fill: false,
    cubicInterpolationMode: 'monotone',
    borderCapStyle: 'butt',
    borderJoinStyle: 'round'
  }));
}

function linScale(min, max, ticks, size, fixed, pad, isX) {
  return {
    type: 'linear', min: min, max: max,
    grid: {display: false, drawTicks: false},
    border: {display: false},
    afterBuildTicks: s => { s.ticks = ticks.map(v => ({value: v})); },
    afterFit: s => { if (isX) s.height = fixed; else s.width = fixed; },
    ticks: {autoSkip: false, maxRotation: 0, minRotation: 0, padding: pad, color: TEXT,
            font: {family: FONT, size: size}, callback: v => String(v)}
  };
}

const framePlugin = {
  id: 'frame',
  afterDatasetsDraw(chart, args, o) {
    const ctx = chart.ctx, a = chart.chartArea, xs = chart.scales.x, ys = chart.scales.y;
    const topEnd = (o.topEnd == null) ? a.right : xs.getPixelForValue(o.topEnd);
    const rightStart = (o.rightStart == null) ? a.top : ys.getPixelForValue(o.rightStart);
    ctx.save();
    ctx.strokeStyle = o.color; ctx.lineWidth = o.width; ctx.setLineDash([]);
    ctx.beginPath();
    ctx.moveTo(topEnd, a.top); ctx.lineTo(a.left, a.top); ctx.lineTo(a.left, a.bottom);
    ctx.lineTo(a.right, a.bottom); ctx.lineTo(a.right, rightStart);
    const L = o.tick;
    for (const t of xs.ticks) {
      const p = xs.getPixelForValue(t.value);
      ctx.moveTo(p, a.bottom); ctx.lineTo(p, a.bottom - L);
      if (p <= topEnd + 0.5) { ctx.moveTo(p, a.top); ctx.lineTo(p, a.top + L); }
    }
    for (const t of ys.ticks) {
      const p = ys.getPixelForValue(t.value);
      ctx.moveTo(a.left, p); ctx.lineTo(a.left + L, p);
      if (p >= rightStart - 0.5) { ctx.moveTo(a.right, p); ctx.lineTo(a.right - L, p); }
    }
    ctx.stroke();
    ctx.restore();
  }
};

function setFont(ctx, size, ls) {
  ctx.font = size + 'px ' + FONT;
  ctx.letterSpacing = ls || '0px';
}

function blockArrow(ctx, x0, y0, x1, y1, shaftW, headL, headW) {
  const dx = x1 - x0, dy = y1 - y0, L = Math.hypot(dx, dy), ux = dx / L, uy = dy / L, nx = -uy, ny = ux;
  const bx = x1 - ux * headL, by = y1 - uy * headL;
  ctx.beginPath();
  ctx.moveTo(x0 + nx * shaftW / 2, y0 + ny * shaftW / 2);
  ctx.lineTo(bx + nx * shaftW / 2, by + ny * shaftW / 2);
  ctx.lineTo(bx + nx * headW / 2, by + ny * headW / 2);
  ctx.lineTo(x1, y1);
  ctx.lineTo(bx - nx * headW / 2, by - ny * headW / 2);
  ctx.lineTo(bx - nx * shaftW / 2, by - ny * shaftW / 2);
  ctx.lineTo(x0 - nx * shaftW / 2, y0 - ny * shaftW / 2);
  ctx.closePath();
  ctx.fill();
}

function thinArrow(ctx, x0, y0, x1, y1) {
  const dx = x1 - x0, dy = y1 - y0, L = Math.hypot(dx, dy), ux = dx / L, uy = dy / L, nx = -uy, ny = ux;
  const hl = 14, hw = 5.5;
  const bx = x1 - ux * hl, by = y1 - uy * hl;
  ctx.lineWidth = 1.6;
  ctx.beginPath(); ctx.moveTo(x0, y0); ctx.lineTo(bx, by); ctx.stroke();
  ctx.beginPath(); ctx.moveTo(x1, y1); ctx.lineTo(bx + nx * hw, by + ny * hw); ctx.lineTo(bx - nx * hw, by - ny * hw); ctx.closePath(); ctx.fill();
}

function drawYTitle(ctx, cx, cy) {
  ctx.save();
  ctx.translate(cx, cy);
  ctx.rotate(-Math.PI / 2);
  ctx.textBaseline = 'alphabetic'; ctx.textAlign = 'left';
  const parts = [
    {t: '|', s: 27, dy: 0},
    {t: 'TF', s: 27, dy: 0, u: true},
    {t: '1N', s: 16, dy: 6},
    {t: '(f)', s: 27, dy: 0},
    {t: ' |', s: 27, dy: 0},
    {t: '  [mA/V]', s: 27, dy: 0}
  ];
  let total = 0;
  for (const p of parts) { setFont(ctx, p.s, '1.5px'); p.w = ctx.measureText(p.t).width; total += p.w; }
  let x = -total / 2;
  const base = 9.5;
  for (const p of parts) {
    setFont(ctx, p.s, '1.5px');
    ctx.fillText(p.t, x, base + p.dy);
    if (p.u) ctx.fillRect(x + 1, base + 3, p.w - 2, 2);
    x += p.w;
  }
  ctx.restore();
}

function panelPlugin(c) {
  return {
    id: 'panel_' + c.tag,
    afterDraw(chart) {
      const ctx = chart.ctx, xs = chart.scales.x, ys = chart.scales.y;
      ctx.save();
      ctx.fillStyle = TEXT; ctx.strokeStyle = INK;
      ctx.textAlign = 'left'; ctx.textBaseline = 'middle';
      // panel tag
      setFont(ctx, 27, '3px');
      ctx.fillText(c.tag + ')', c.tagX, c.tagY);
      // legend, built from the datasets
      chart.data.datasets.forEach((ds, i) => {
        const y = c.legY + i * c.legStep;
        ctx.setLineDash(legendDash[lineStyles[i]]);
        ctx.lineWidth = lineStyles[i] === 'dot' ? 2 : 2.6;
        ctx.strokeStyle = INK;
        ctx.beginPath(); ctx.moveTo(c.legX1, y); ctx.lineTo(c.legX2, y); ctx.stroke();
        ctx.setLineDash([]);
        setFont(ctx, 18, '1px');
        ctx.fillText(ds.label, c.legTextX, y);
      });
      // zoom box (data units)
      const bx0 = xs.getPixelForValue(c.box[0]), bx1 = xs.getPixelForValue(c.box[1]);
      const by0 = ys.getPixelForValue(c.box[2]), by1 = ys.getPixelForValue(c.box[3]);
      ctx.lineWidth = 3.6; ctx.strokeStyle = '#1c1c1c'; ctx.setLineDash([]);
      ctx.strokeRect(bx0, by1, bx1 - bx0, by0 - by1);
      // big arrow (data units)
      ctx.fillStyle = '#161616';
      blockArrow(ctx, xs.getPixelForValue(c.arrow[0]), ys.getPixelForValue(c.arrow[1]),
                 xs.getPixelForValue(c.arrow[2]), ys.getPixelForValue(c.arrow[3]), 8.5, 28, 32);
      // axis titles
      ctx.fillStyle = TEXT; ctx.strokeStyle = TEXT;
      drawYTitle(ctx, c.yTitleX, c.yTitleY);
      thinArrow(ctx, c.yArrowX, c.yArrowTail, c.yArrowX, c.yArrowTip);
      setFont(ctx, 27, '2px');
      ctx.textBaseline = 'middle';
      ctx.fillText('Frequency', c.fqX, c.titleY);
      ctx.fillText('f [MHz]', c.fX, c.titleY);
      thinArrow(ctx, c.xArrow0, c.titleY, c.xArrow1, c.titleY);
      ctx.restore();
    }
  };
}

function insetPlugin(c) {
  return {
    id: 'insetDecor',
    beforeDraw(chart) {
      const ctx = chart.ctx;
      ctx.save(); ctx.fillStyle = BG; ctx.fillRect(0, 0, chart.width, chart.height); ctx.restore();
    },
    afterDraw(chart) {
      const ctx = chart.ctx, xs = chart.scales.x, ys = chart.scales.y;
      const P = c.arrow.map(p => [xs.getPixelForValue(p[0]), ys.getPixelForValue(p[1])]);
      const tip = P[P.length - 1], pts = P.slice(0, -1), base = pts[pts.length - 1];
      ctx.save();
      ctx.strokeStyle = '#161616'; ctx.fillStyle = '#161616';
      ctx.lineWidth = 5.5; ctx.lineCap = 'round'; ctx.lineJoin = 'round'; ctx.setLineDash([]);
      ctx.beginPath(); ctx.moveTo(pts[0][0], pts[0][1]);
      for (let i = 1; i < pts.length - 1; i++) {
        const mx = (pts[i][0] + pts[i + 1][0]) / 2, my = (pts[i][1] + pts[i + 1][1]) / 2;
        ctx.quadraticCurveTo(pts[i][0], pts[i][1], mx, my);
      }
      ctx.lineTo(base[0], base[1]);
      ctx.stroke();
      const dx = tip[0] - base[0], dy = tip[1] - base[1], L = Math.hypot(dx, dy);
      const nx = -dy / L, ny = dx / L, hw = 10;
      ctx.beginPath();
      ctx.moveTo(tip[0], tip[1]);
      ctx.lineTo(base[0] + nx * hw - dx / L * 2, base[1] + ny * hw - dy / L * 2);
      ctx.lineTo(base[0] - nx * hw - dx / L * 2, base[1] - ny * hw - dy / L * 2);
      ctx.closePath(); ctx.fill();
      ctx.fillStyle = TEXT;
      setFont(ctx, 24, '2px');
      ctx.textAlign = 'center'; ctx.textBaseline = 'middle';
      ctx.fillText('displacement', xs.getPixelForValue(c.textX), ys.getPixelForValue(c.textY));
      ctx.restore();
    }
  };
}

function makeChart(id, w, h, cfg) {
  const cv = document.getElementById(id);
  cv.width = w; cv.height = h; cv.style.width = w + 'px'; cv.style.height = h + 'px';
  return new Chart(cv.getContext('2d'), cfg);
}

function baseOptions(padding, xScale, yScale, frame) {
  return {
    responsive: false, animation: false, events: [],
    layout: {padding: padding},
    plugins: {legend: {display: false}, tooltip: {enabled: false}, frame: frame},
    scales: {x: xScale, y: yScale}
  };
}

const panelA = {tag: 'a', tagX: 53, tagY: 130, legX1: 180, legX2: 267, legTextX: 289, legY: 98.3, legStep: 20.5,
  box: [0.634, 0.789, 0.493, 1.278], arrow: [0.717, 1.386, 0.835, 2.28],
  yTitleX: 50, yTitleY: 537, yArrowX: 52, yArrowTail: 385.6, yArrowTip: 318,
  fqX: 355, fX: 535, titleY: 828, xArrow0: 667, xArrow1: 775};
const panelB = {tag: 'b', tagX: 50, tagY: 120, legX1: 167, legX2: 253, legTextX: 276, legY: 93, legStep: 20.6,
  box: [0.615, 0.769, 0.646, 1.625], arrow: [0.69, 1.708, 0.806, 2.736],
  yTitleX: 46.7, yTitleY: 529, yArrowX: 48.4, yArrowTail: 372.6, yArrowTip: 305,
  fqX: 365, fX: 541.7, titleY: 820, xArrow0: 675, xArrow1: 783.3};
const insetADecor = {arrow: [[0.7219, 1.123], [0.7196, 1.030], [0.7156, 0.923], [0.7103, 0.862], [0.7040, 0.807], [0.7003, 0.783]], textX: 0.6928, textY: 1.0196};
const insetBDecor = {arrow: [[0.7216, 1.278], [0.7163, 1.132], [0.7082, 1.013], [0.7003, 0.925], [0.6963, 0.893]], textX: 0.6856, textY: 1.133};

// ---------------- CHARTS ----------------
makeChart('mainA', 1020, 870, {
  type: 'line',
  data: {datasets: makeDatasets([mainA0, mainA1, mainA2, mainA3, mainA4, mainA5, mainA6, mainA7, mainA8], mainDash, 1.3)},
  options: baseOptions({left: 64, right: 239, top: 317.3, bottom: 56.7},
    linScale(0, 1, mainXTicks, 18, 40, 8, true), linScale(0, 3, mainAYTicks, 18, 60, 7, false),
    {color: FRAME, width: 1.2, tick: 6, topEnd: 0.5235, rightStart: 2.265}),
  plugins: [framePlugin, panelPlugin(panelA)]
});

makeChart('mainB', 1020, 853, {
  type: 'line',
  data: {datasets: makeDatasets([mainB0, mainB1, mainB2, mainB3, mainB4, mainB5, mainB6, mainB7, mainB8], mainDash, 1.3)},
  options: baseOptions({left: 72.7, right: 231, top: 306.7, bottom: 50.5},
    linScale(0, 1, mainXTicks, 18, 40, 8, true), linScale(0, 3.5, mainBYTicks, 18, 60, 7, false),
    {color: FRAME, width: 1.2, tick: 6, topEnd: 0.485, rightStart: 2.598}),
  plugins: [framePlugin, panelPlugin(panelB)]
});

makeChart('insetA', 520, 420, {
  type: 'line',
  data: {datasets: makeDatasets([insetA0, insetA1, insetA2, insetA3, insetA4, insetA5, insetA6, insetA7, insetA8], insetDash, 2.2)},
  options: baseOptions({left: 6, right: 15, top: 28.3, bottom: 11.7},
    linScale(0.667, 0.7584, insetAXTicks, 14, 30, 6, true), linScale(0.374, 1.351, insetAYTicks, 14, 40, 4, false),
    {color: FRAME, width: 1, tick: 4}),
  plugins: [insetPlugin(insetADecor), framePlugin]
});

makeChart('insetB', 530, 388, {
  type: 'line',
  data: {datasets: makeDatasets([insetB0, insetB1, insetB2, insetB3, insetB4, insetB5, insetB6, insetB7, insetB8], insetDash, 2.2)},
  options: baseOptions({left: 6, right: 15.7, top: 17, bottom: 4.7},
    linScale(0.647, 0.7589, insetBXTicks, 14, 20, 4.3, true), linScale(0.4057, 1.524, insetBYTicks, 14, 36, 5, false),
    {color: FRAME, width: 1, tick: 4}),
  plugins: [insetPlugin(insetBDecor), framePlugin]
});
</script></body></html>
